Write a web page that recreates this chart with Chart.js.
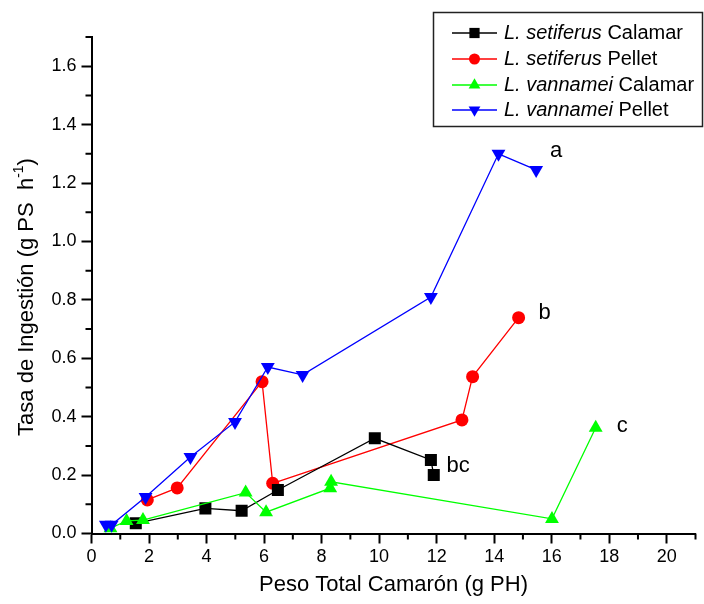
<!DOCTYPE html>
<html>
<head>
<meta charset="utf-8">
<script src="https://cdn.jsdelivr.net/npm/chart.js@4.4.1/dist/chart.umd.min.js"></script>
<style>
  html, body { margin: 0; padding: 0; background: #fff; }
</style>
</head>
<body>
<canvas id="chart" width="704" height="604"></canvas>
<script>
const FONT = "'Liberation Sans', Arial, Helvetica, sans-serif";

// L. setiferus Calamar
const setCalX = [1.54, 3.96, 5.22, 6.48, 9.85, 11.8, 11.9];
const setCalY = [0.035, 0.086, 0.078, 0.149, 0.326, 0.252, 0.20];
// L. setiferus Pellet
const setPelX = [1.94, 2.98, 5.93, 6.30, 12.88, 13.25, 14.85];
const setPelY = [0.115, 0.156, 0.52, 0.172, 0.389, 0.537, 0.739];
// L. vannamei Calamar
const vanCalX = [0.66, 1.22, 1.79, 5.36, 6.07, 8.30, 8.33, 16.01, 17.53];
const vanCalY = [0.018, 0.043, 0.046, 0.14, 0.073, 0.155, 0.177, 0.05, 0.362];
// L. vannamei Pellet
const vanPelX = [0.5, 0.7, 1.88, 3.44, 4.99, 6.13, 7.34, 11.8, 14.15, 15.46];
const vanPelY = [0.03, 0.03, 0.125, 0.262, 0.382, 0.57, 0.543, 0.81, 1.30, 1.245];

const seriesSpecies = ['L. setiferus', 'L. setiferus', 'L. vannamei', 'L. vannamei'];
const seriesFeed = ['Calamar', 'Pellet', 'Calamar', 'Pellet'];

// letters beside the curve ends
const noteText = ['a', 'b', 'c', 'bc'];
const noteX = [16.15, 15.75, 18.45, 12.75];
const noteY = [1.31, 0.755, 0.37, 0.23];

const xTitle = 'Peso Total Camarón (g PH)';
const yTitle = 'Tasa de Ingestión (g PS  h';
const yTitleSup = '-1';

const X_MAX = 21;
const Y_MAX = 1.7;

const colors = ['#000000', '#ff0000', '#00ff00', '#0000ff'];
const styles = ['rect', 'circle', 'triangle', 'triangle'];
const rotations = [0, 0, 0, 180];
const radii = [8.5, 6.5, 8, 8];
const orders = [2, 3, 1, 0];

const xs = [setCalX, setPelX, vanCalX, vanPelX];
const ys = [setCalY, setPelY, vanCalY, vanPelY];

const datasets = xs.map((arr, i) => ({
  label: seriesSpecies[i] + ' ' + seriesFeed[i],
  data: arr.map((x, j) => ({ x, y: ys[i][j] })),
  showLine: true,
  borderColor: colors[i],
  backgroundColor: colors[i],
  borderWidth: 1.3,
  pointStyle: styles[i],
  pointRotation: rotations[i],
  pointRadius: radii[i],
  pointBorderWidth: 0,
  order: orders[i]
}));

// minor ticks, axis titles, letters and the legend box
const extras = {
  id: 'extras',
  afterDraw(chart) {
    const { ctx, chartArea, scales: { x, y } } = chart;
    ctx.save();

    ctx.strokeStyle = '#000';
    ctx.lineWidth = 2;
    ctx.beginPath();
    for (let v = 1; v <= X_MAX; v += 2) {
      const px = x.getPixelForValue(v);
      ctx.moveTo(px, chartArea.bottom);
      ctx.lineTo(px, chartArea.bottom + 6);
    }
    for (let k = 1; k <= 17; k += 2) {
      const py = y.getPixelForValue(k / 10);
      ctx.moveTo(chartArea.left, py);
      ctx.lineTo(chartArea.left - 6, py);
    }
    ctx.stroke();

    ctx.fillStyle = '#000';
    ctx.textBaseline = 'middle';

    // x title
    ctx.font = '22px ' + FONT;
    ctx.textAlign = 'center';
    ctx.fillText(xTitle, (chartArea.left + chartArea.right) / 2, 585);

    // y title with superscript
    ctx.save();
    ctx.translate(27, 297);
    ctx.rotate(-Math.PI / 2);
    ctx.textAlign = 'left';
    ctx.font = '22px ' + FONT;
    const w1 = ctx.measureText(yTitle).width;
    const w3 = ctx.measureText(')').width;
    ctx.font = '14px ' + FONT;
    const w2 = ctx.measureText(yTitleSup).width;
    let sx = -(w1 + w2 + w3) / 2;
    ctx.font = '22px ' + FONT;
    ctx.fillText(yTitle, sx, 0);
    sx += w1;
    ctx.font = '14px ' + FONT;
    ctx.fillText(yTitleSup, sx, -8);
    sx += w2;
    ctx.font = '22px ' + FONT;
    ctx.fillText(')', sx, 0);
    ctx.restore();

    // letters
    ctx.font = '22px ' + FONT;
    ctx.textAlign = 'center';
    noteText.forEach((t, i) => {
      ctx.fillText(t, x.getPixelForValue(noteX[i]), y.getPixelForValue(noteY[i]));
    });

    // legend
    ctx.strokeStyle = '#222';
    ctx.lineWidth = 1.5;
    ctx.strokeRect(433.5, 12.5, 269, 114);
    const rowY = [33, 59, 85, 110];
    chart.data.datasets.forEach((ds, i) => {
      const cy = rowY[i];
      ctx.strokeStyle = ds.borderColor;
      ctx.lineWidth = 1.3;
      ctx.beginPath();
      ctx.moveTo(452, cy);
      ctx.lineTo(497, cy);
      ctx.stroke();
      ctx.fillStyle = ds.backgroundColor;
      Chart.helpers.drawPoint(ctx, {
        pointStyle: ds.pointStyle,
        rotation: ds.pointRotation,
        radius: ds.pointRadius * 0.85,
        borderWidth: 0
      }, 474.5, cy);
      ctx.fillStyle = '#000';
      ctx.textAlign = 'left';
      ctx.font = 'italic 20px ' + FONT;
      ctx.fillText(seriesSpecies[i], 504, cy);
      const iw = ctx.measureText(seriesSpecies[i]).width;
      ctx.font = '20px ' + FONT;
      ctx.fillText(' ' + seriesFeed[i], 504 + iw, cy);
    });

    ctx.restore();
  }
};

const axisCommon = {
  type: 'linear',
  min: 0,
  grid: {
    display: true,
    drawOnChartArea: false,
    drawTicks: true,
    tickLength: 10,
    tickWidth: 2,
    tickColor: '#000'
  },
  border: { display: true, color: '#000', width: 2 },
  title: { display: false }
};

new Chart(document.getElementById('chart'), {
  type: 'scatter',
  data: { datasets },
  plugins: [extras],
  options: {
    responsive: false,
    animation: false,
    devicePixelRatio: 1,
    layout: { padding: { top: 37, right: 4.5, left: 0, bottom: 0 } },
    plugins: { legend: { display: false }, tooltip: { enabled: false } },
    scales: {
      x: {
        ...axisCommon,
        position: 'bottom',
        max: X_MAX,
        afterFit(s) { s.height = 70.5; },
        ticks: {
          stepSize: 2,
          includeBounds: false,
          color: '#000',
          font: { family: FONT, size: 18 },
          padding: 3,
          maxRotation: 0,
          callback: v => String(v)
        }
      },
      y: {
        ...axisCommon,
        position: 'left',
        max: Y_MAX,
        afterFit(s) { s.width = 91.5; },
        ticks: {
          stepSize: 0.2,
          includeBounds: false,
          color: '#000',
          font: { family: FONT, size: 18 },
          padding: 5,
          callback: v => v.toFixed(1)
        }
      }
    }
  }
});
</script>
</body>
</html>
